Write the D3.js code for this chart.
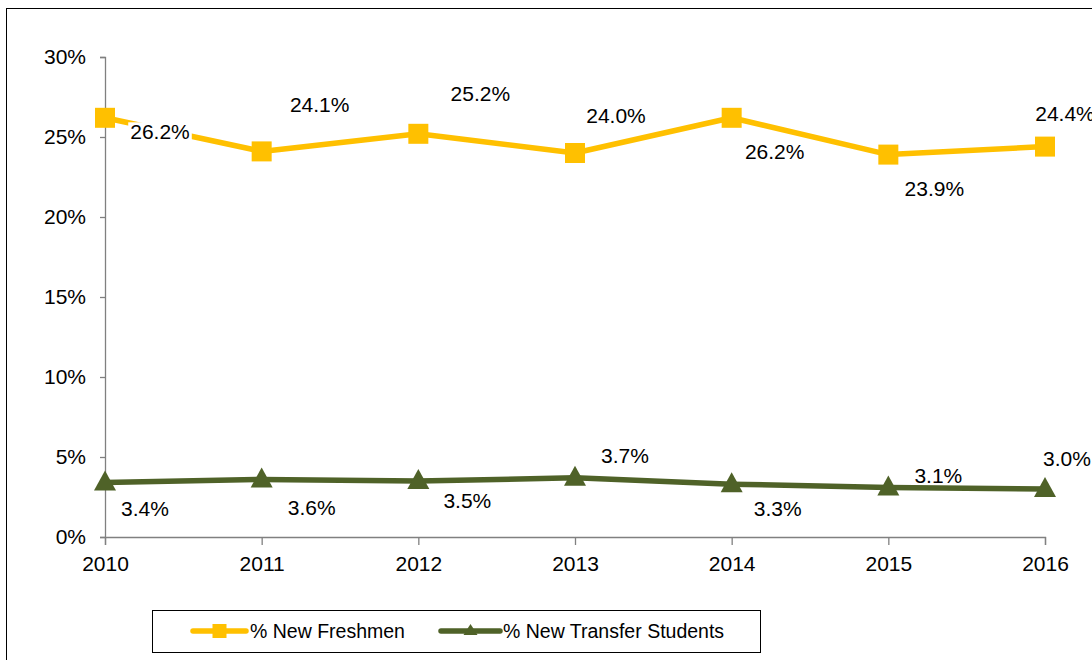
<!DOCTYPE html>
<html><head><meta charset="utf-8">
<script src="https://cdn.jsdelivr.net/npm/d3@7"></script>
<style>body{margin:0;background:#fff;}svg{display:block;font-family:"Liberation Sans",Arial,sans-serif;}</style>
</head><body>
<svg id="c" width="1092" height="660"></svg>
<script>
const years = ["2010","2011","2012","2013","2014","2015","2016"];
const freshmen = [26.2, 24.1, 25.2, 24.0, 26.2, 23.9, 24.4];
const transfer = [3.4, 3.6, 3.5, 3.7, 3.3, 3.1, 3.0];
const yTicks = [0, 5, 10, 15, 20, 25, 30];
const seriesNames = ["% New Freshmen", "% New Transfer Students"];
// label placement: dx, dy offsets relative to point (layout only)
const freshLabelPos = [[55,14],[58,-47],[62,-40],[41,-38],[43,34],[46,34],[20,-33]];
const transLabelPos = [[40,26],[50,28],[49,19],[50,-22],[46,24],[50,-12],[22,-31]];

const svg = d3.select("#c");
svg.append("rect").attr("x",6.5).attr("y",8.5).attr("width",1100).attr("height",670)
  .attr("fill","#fff").attr("stroke","#000").attr("stroke-width",1);

const x = d3.scalePoint().domain(years).range([105,1045]);
const y = d3.scaleLinear().domain([0,30]).range([537,57]);

const axisColor = "#808080";
const yAxis = svg.append("g").attr("transform","translate(105,0)")
  .call(d3.axisLeft(y).tickValues(yTicks).tickFormat(d=>d+"%").tickSize(5).tickPadding(14));
const xAxis = svg.append("g").attr("transform","translate(0,537)")
  .call(d3.axisBottom(x).tickSize(8).tickPadding(11));
[yAxis,xAxis].forEach(g=>{
  g.select(".domain").attr("stroke",axisColor).attr("stroke-width",1.3);
  g.selectAll(".tick line").attr("stroke",axisColor).attr("stroke-width",1.3);
  g.selectAll("text").attr("font-size",21).attr("fill","#000").attr("font-family","Liberation Sans, Arial, sans-serif");
});

const yellow = "#FFC000", green = "#4F6228";
const line = d3.line().x((d,i)=>x(years[i])).y(d=>y(d));

function drawSeries(vals, color, marker, labelPos) {
  const g = svg.append("g");
  g.append("path").datum(vals).attr("d",line).attr("fill","none")
    .attr("stroke",color).attr("stroke-width",5.5).attr("stroke-linejoin","round");
  vals.forEach((v,i)=>{
    const cx = x(years[i]), cy = y(v);
    if (marker==="square") {
      g.append("rect").attr("x",cx-10).attr("y",cy-10).attr("width",20).attr("height",20).attr("fill",color);
    } else {
      g.append("path").attr("d",`M${cx},${cy-12}L${cx+11},${cy+8}L${cx-11},${cy+8}Z`).attr("fill",color);
    }
  });
  const lg = svg.append("g");
  vals.forEach((v,i)=>{
    const cx = x(years[i]) + labelPos[i][0], cy = y(v) + labelPos[i][1];
    const t = lg.append("text").attr("x",cx).attr("y",cy+7.5).attr("text-anchor","middle")
      .attr("font-size",21).attr("fill","#000")
      .text(v.toFixed(1)+"%");
    const bb = t.node().getBBox();
    lg.insert("rect","text").attr("x",bb.x-2).attr("y",bb.y+2).attr("width",bb.width+4).attr("height",bb.height-4).attr("fill","#fff");
  });
}
drawSeries(freshmen, yellow, "square", freshLabelPos);
drawSeries(transfer, green, "triangle", transLabelPos);

// legend
const leg = svg.append("g");
leg.append("rect").attr("x",152.5).attr("y",610.5).attr("width",608).attr("height",42)
  .attr("fill","#fff").attr("stroke","#000").attr("stroke-width",1);
const legItems = [
  {name:seriesNames[0], color:yellow, marker:"square", x0:193, x1:246, tx:250},
  {name:seriesNames[1], color:green, marker:"triangle", x0:441, x1:500, tx:503}
];
legItems.forEach(it=>{
  const cy = 631;
  leg.append("line").attr("x1",it.x0).attr("x2",it.x1).attr("y1",cy).attr("y2",cy)
    .attr("stroke",it.color).attr("stroke-width",5.5).attr("stroke-linecap","round");
  const mx=(it.x0+it.x1)/2;
  if (it.marker==="square") leg.append("rect").attr("x",mx-7).attr("y",cy-7).attr("width",14).attr("height",14).attr("fill",it.color);
  else leg.append("path").attr("d",`M${mx},${cy-7}L${mx+7},${cy+4}L${mx-7},${cy+4}Z`).attr("fill",it.color);
  leg.append("text").attr("x",it.tx).attr("y",cy+7).attr("font-size",19.5).attr("fill","#000").text(it.name);
});
</script>
</body></html>
